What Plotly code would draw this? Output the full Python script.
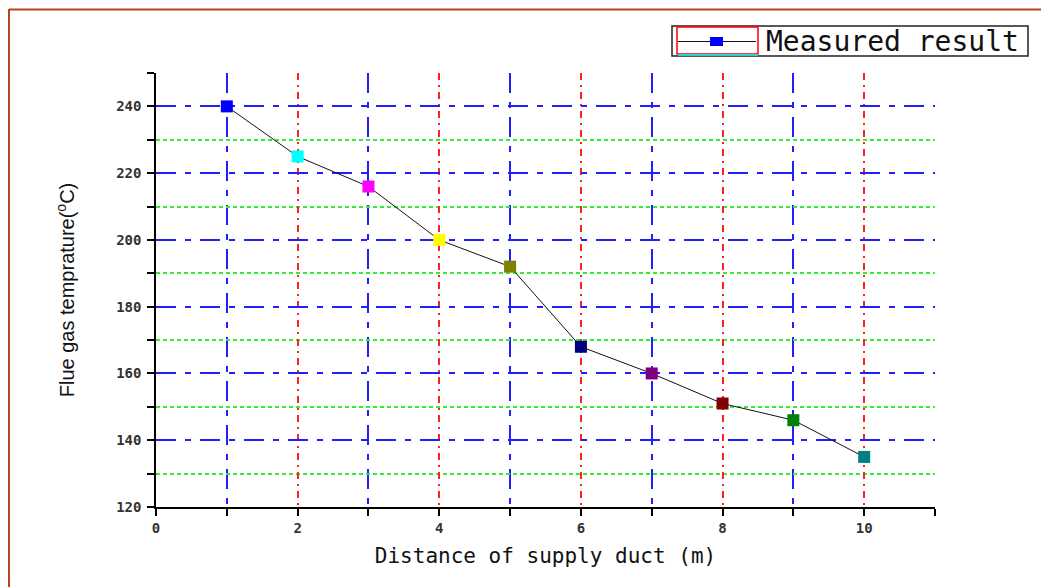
import plotly.graph_objects as go

distance = [1, 2, 3, 4, 5, 6, 7, 8, 9, 10]
temperature = [240, 225, 216, 200, 192, 168, 160, 151, 146, 135]
point_colors = ["#0000ff", "#00ffff", "#ff00ff", "#ffff00", "#808000",
                "#000080", "#800080", "#800000", "#008000", "#008080"]
series_name = "Measured result"
x_title = "Distance of supply duct (m)"
y_title = "Flue gas temprature(<sup>o</sup>C)"

# page offset (browser body margin)
OFF = 8
W, H = 1049 - OFF, 587 - OFF
# plot area in page pixels
PL, PR, PT, PB = 156, 935, 73, 507
L, T = PL - OFF, PT - OFF
R, B = W - (PR - OFF), H - (PB - OFF)
pw, ph = W - L - R, H - T - B


def px_x(p):
    return (p - PL) / pw


def px_y(p):
    return 1 - (p - PT) / ph


fig = go.Figure()
fig.add_trace(go.Scatter(
    x=distance, y=temperature, mode="lines+markers", name=series_name,
    line=dict(color="#111111", width=1),
    marker=dict(symbol="square", size=12, color=point_colors, line=dict(width=0)),
    showlegend=False,
))

tickfont = dict(family="DejaVu Sans Mono", size=14, color="#333333", weight="bold")

fig.update_layout(
    width=W, height=H,
    margin=dict(l=L, r=R, t=T, b=B, autoexpand=False),
    paper_bgcolor="white", plot_bgcolor="white",
    xaxis=dict(
        range=[0, 11], tick0=0, dtick=2,
        showline=True, linecolor="black", linewidth=1.5,
        ticks="outside", ticklen=7, tickcolor="black", tickwidth=1.5,
        tickfont=tickfont,
        showgrid=True, gridcolor="#ff2020", gridwidth=1.5, griddash="7px,5px,2px,5px",
        minor=dict(dtick=1, showgrid=True, gridcolor="#2020ff", gridwidth=2,
                   griddash="20px,9px,6px,9px", ticks="outside", ticklen=7,
                   tickcolor="black", tickwidth=1.5),
        zeroline=False,
        title=dict(text=x_title, font=dict(family="DejaVu Sans Mono", size=21, color="#111111"),
                   standoff=14),
    ),
    yaxis=dict(
        range=[120, 250], tick0=120, dtick=20,
        showline=True, linecolor="black", linewidth=1.5,
        ticks="outside", ticklen=7, tickcolor="black", tickwidth=1.5,
        tickfont=tickfont, ticklabelstandoff=3,
        showgrid=True, gridcolor="#2020ff", gridwidth=2, griddash="20px,9px,6px,9px",
        minor=dict(dtick=10, showgrid=True, gridcolor="#33ee33", gridwidth=1.5,
                   griddash="4px,3px", ticks="outside", ticklen=7,
                   tickcolor="black", tickwidth=1.5),
        zeroline=False,
        title=dict(text=y_title,
                   font=dict(family="Liberation Sans Narrow, Liberation Sans, Arial",
                             size=20, color="#111111"),
                   standoff=36),
    ),
)

# decorative frame
border = "#b5461e"
fig.add_shape(type="line", xref="paper", yref="paper",
              x0=px_x(9), x1=px_x(9), y0=px_y(9), y1=px_y(600),
              line=dict(color=border, width=2))
fig.add_shape(type="line", xref="paper", yref="paper",
              x0=px_x(9), x1=px_x(1060), y0=px_y(9.5), y1=px_y(9.5),
              line=dict(color=border, width=2))

# legend box (drawn like the original)
fig.add_shape(type="rect", xref="paper", yref="paper",
              x0=px_x(672), x1=px_x(1028), y0=px_y(26), y1=px_y(56),
              line=dict(color="#222222", width=1.5), fillcolor="white")
fig.add_shape(type="rect", xref="paper", yref="paper",
              x0=px_x(677), x1=px_x(758), y0=px_y(27), y1=px_y(54),
              line=dict(color="red", width=1.5))
fig.add_shape(type="line", xref="paper", yref="paper",
              x0=px_x(678), x1=px_x(758), y0=px_y(55), y1=px_y(55),
              line=dict(color="cyan", width=1.5))
fig.add_shape(type="line", xref="paper", yref="paper",
              x0=px_x(678), x1=px_x(756), y0=px_y(41.5), y1=px_y(41.5),
              line=dict(color="#111111", width=1))
fig.add_shape(type="rect", xref="paper", yref="paper",
              x0=px_x(710), x1=px_x(723), y0=px_y(37), y1=px_y(46),
              line=dict(width=0), fillcolor=point_colors[0])
fig.add_annotation(xref="paper", yref="paper", x=px_x(764), y=px_y(41.5),
                   xanchor="left", yanchor="middle", showarrow=False,
                   text=series_name,
                   font=dict(family="DejaVu Sans Mono", size=28, color="#111111"))

fig.write_html("out.html")
